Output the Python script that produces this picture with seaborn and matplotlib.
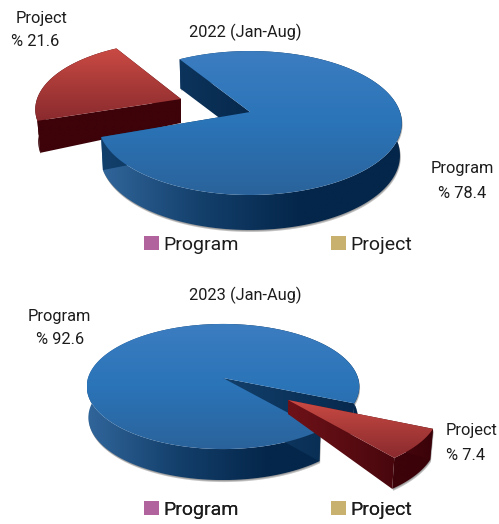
import numpy as np
import matplotlib
matplotlib.use('Agg')
import matplotlib.pyplot as plt
import seaborn as sns
from matplotlib.colors import LinearSegmentedColormap
from matplotlib.patches import Patch, Polygon

# data
categories = ['Program', 'Project']
values_2022 = [78.4, 21.6]
values_2023 = [92.6, 7.4]
titles = ['2022 (Jan-Aug)', '2023 (Jan-Aug)']
legend_colors = ['#b0639c', '#c8b06f']

sns.set_theme(style='white')
plt.rcParams['font.family'] = ['Roboto', 'Liberation Sans', 'DejaVu Sans']

BLUE_TOP = ['#3c7dc0', '#2a74b8', '#2b639b']
BLUE_SIDE = ['#31669b', '#133f6b', '#04264a', '#04264a']
BLUE_WALL = ['#12406c', '#07294d']
RED_TOP = ['#cb4a44', '#a83a38', '#8a2a2e']
RED_SIDE = ['#3d0309', '#3d0309']
RED_WALL = ['#3d0309', '#3d0309']
RED_SIDE2 = ['#3d0309', '#3a0309']
RED_WALL2 = ['#6e1218', '#3a0309']

fig = plt.figure(figsize=(4.99, 5.24), dpi=100)
ax = fig.add_axes([0, 0, 1, 1])


def project(x, y, g):
    # slanted disc: circle in, perspective ellipse out
    w = 1 + g['k'] * y
    return g['cx'] + g['a'] * x / w, g['cy'] - g['b'] * y / w


def fill_grad(pts_list, colors, horizontal, zorder):
    # one gradient image clipped to a set of polygons
    allp = np.vstack(pts_list)
    x0, x1 = allp[:, 0].min(), allp[:, 0].max()
    y0, y1 = allp[:, 1].min(), allp[:, 1].max()
    cmap = LinearSegmentedColormap.from_list('g', colors)
    grad = np.linspace(0, 1, 256).reshape(1, -1) if horizontal else np.linspace(0, 1, 256).reshape(-1, 1)
    for pts in pts_list:
        poly = Polygon(pts, closed=True, fc='none', ec='none', transform=ax.transData)
        ax.add_patch(poly)
        im = ax.imshow(grad, cmap=cmap, extent=(x0, x1, y1, y0), aspect='auto', zorder=zorder,
                       interpolation='bilinear', vmin=0, vmax=1)
        im.set_clip_path(poly)


def draw_slice(theta1, theta2, g, top, side, wall, zorder):
    t = np.radians(np.linspace(theta1, theta2, 160)) + np.radians(g.get('rot', 0))
    ux, uy = np.cos(t), np.sin(t)
    rim_x, rim_y = project(ux, uy, g)
    apex = np.array(project(0.0, 0.0, g))
    top_pts = np.vstack([apex, np.column_stack([rim_x, rim_y])])

    def lower(px, py, r, uy_):
        d = g['d_apex'] + (g['d_rim'] - g['d_apex']) * r - g['tilt'] * uy_
        return g['cx'] + (px - g['cx']) * (1 - g['shrink'] * r), py + d

    low_x, low_y = lower(rim_x, rim_y, 1.0, uy)
    apex_low = lower(apex[0], apex[1], 0.0, 0.0)

    # soft shadow under the side
    band = np.vstack([np.column_stack([rim_x, rim_y]), np.column_stack([low_x, low_y])[::-1]])
    ax.add_patch(Polygon(band + [0.8, 2.0], closed=True, fc='#555555', ec='none', alpha=0.35, zorder=zorder))
    ax.add_patch(Polygon(band + [0.4, 1.0], closed=True, fc='#555555', ec='none', alpha=0.35, zorder=zorder))

    # outer side, one band along the arc
    fill_grad([band], side, True, zorder + 0.1)

    # the two radial walls
    wall_a = np.array([apex, [rim_x[0], rim_y[0]], [low_x[0], low_y[0]], apex_low])
    wall_b = np.array([apex, [rim_x[-1], rim_y[-1]], [low_x[-1], low_y[-1]], apex_low])
    fill_grad([wall_a, wall_b], wall, True, zorder + 0.2)

    fill_grad([top_pts], top, False, zorder + 0.3)


# disc geometry, pixels of the figure
disc_2022 = dict(cx=250, cy=112, a=150, b=70.3, k=0.153, d_apex=29, d_rim=32, tilt=3, shrink=0.012)
slice_2022 = dict(cx=181, cy=99, a=144, b=66.4, k=0.153, d_apex=24, d_rim=32, tilt=0, shrink=0.02, rot=-1.5)
disc_2023 = dict(cx=223, cy=378, a=135, b=61.4, k=0.136, d_apex=30, d_rim=31, tilt=0, shrink=0.012)
slice_2023 = dict(cx=288, cy=400, a=150, b=67, k=0.136, d_apex=14, d_rim=31, tilt=0, shrink=0.02, rot=-1)

w22, _ = ax.pie(values_2022, startangle=122, counterclock=False)
w23, _ = ax.pie(values_2023, startangle=-23, counterclock=True)
ang22 = [(w.theta1, w.theta2) for w in w22]
ang23 = [(w.theta1, w.theta2) for w in w23]
for w in list(w22) + list(w23):
    w.remove()

draw_slice(*ang22[1], slice_2022, RED_TOP, RED_SIDE, RED_WALL, 2)
draw_slice(*ang22[0], disc_2022, BLUE_TOP, BLUE_SIDE, BLUE_WALL, 3)
draw_slice(*ang23[0], disc_2023, BLUE_TOP, BLUE_SIDE, BLUE_WALL, 3)
draw_slice(*ang23[1], slice_2023, RED_TOP, RED_SIDE2, RED_WALL2, 4)

ax.set_aspect('auto')
ax.set_xlim(0, 499)
ax.set_ylim(524, 0)
ax.axis('off')

txt = dict(ha='center', va='center', fontsize=11.8, color='#1c1c1c', zorder=6)
ax.text(245, 32, titles[0], **txt)
ax.text(245, 295, titles[1], **txt)
ax.text(42, 18, categories[1], **txt)
ax.text(35, 41, f'% {values_2022[1]}', **txt)
ax.text(462, 169, categories[0], **txt)
ax.text(462, 193, f'% {values_2022[0]}', **txt)
ax.text(59, 316, categories[0], **txt)
ax.text(60, 339, f'% {values_2023[0]}', **txt)
ax.text(472, 431, categories[1], **txt)
ax.text(466, 455, f'% {values_2023[1]}', **txt)

handles = [Patch(facecolor=c, linewidth=0) for c in legend_colors]
for ypos in (245, 510):
    leg = ax.legend(handles, categories, ncols=2, frameon=False, fontsize=14,
                    handlelength=0.77, handleheight=0.77, handletextpad=0.25, columnspacing=4.7,
                    loc='center', bbox_to_anchor=(278, ypos), bbox_transform=ax.transData,
                    labelcolor='#1c1c1c', borderpad=0, borderaxespad=0)
    ax.add_artist(leg)

fig.savefig('out.png', dpi=100)
